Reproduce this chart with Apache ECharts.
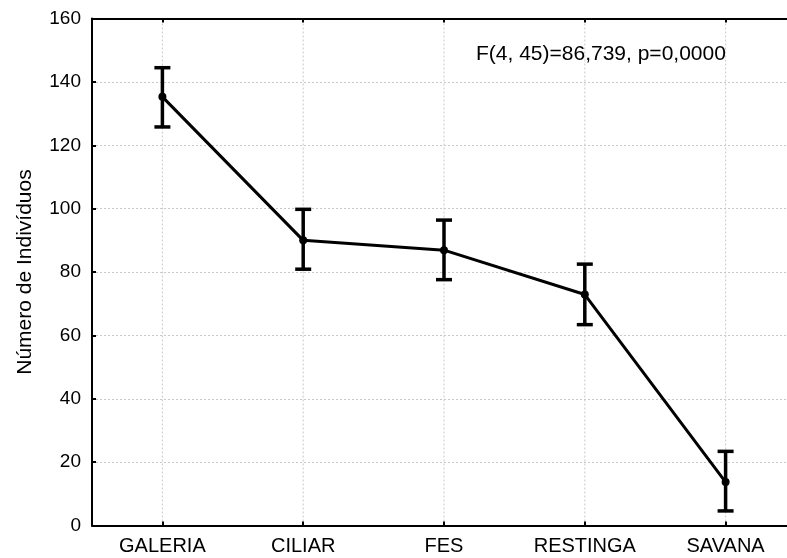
<!DOCTYPE html>
<html>
<head>
<meta charset="utf-8">
<script src="https://cdn.jsdelivr.net/npm/echarts@6/dist/echarts.min.js"></script>
<style>html,body{margin:0;padding:0;background:#fff}#c{width:787px;height:558px}</style>
</head>
<body>
<div id="c"></div>
<script>
var categories = ['GALERIA', 'CILIAR', 'FES', 'RESTINGA', 'SAVANA'];
var means = [135.3, 90.0, 86.9, 72.9, 13.7];
var upper = [144.5, 99.8, 96.4, 82.5, 23.4];
var lower = [125.8, 80.9, 77.6, 63.4, 4.6];
var yTicks = [0, 20, 40, 60, 80, 100, 120, 140, 160];
var yName = 'Número de Indivíduos';
var annotation = 'F(4, 45)=86,739, p=0,0000';

var FONT = "'Liberation Sans', Arial, sans-serif";
var chart = echarts.init(document.getElementById('c'), null, {renderer: 'canvas'});

var errData = categories.map(function (c, i) { return [i, lower[i], upper[i]]; });
var gridData = categories.map(function (c, i) { return [i]; });
var yMin = yTicks[0], yMax = yTicks[yTicks.length - 1];

var option = {
  animation: false,
  backgroundColor: '#fff',
  grid: {left: 92, top: 18.6, width: 704, bottom: 32.5, containLabel: false, outerBoundsMode: 'none'},
  xAxis: [{
    type: 'category',
    data: categories,
    position: 'bottom',
    boundaryGap: true,
    axisLine: {show: true, lineStyle: {color: '#000', width: 2}},
    axisTick: {show: true, inside: true, alignWithLabel: true, length: 4, lineStyle: {color: '#000', width: 2}},
    axisLabel: {color: '#000', fontFamily: FONT, fontSize: 20, margin: 11},
    splitLine: {show: false}
  }, {
    type: 'category',
    data: categories,
    position: 'top',
    boundaryGap: true,
    axisLine: {show: true, lineStyle: {color: '#000', width: 2}},
    axisTick: {show: true, inside: true, alignWithLabel: true, length: 4, lineStyle: {color: '#000', width: 2}},
    axisLabel: {show: false},
    splitLine: {show: false}
  }],
  yAxis: {
    type: 'value',
    min: yMin,
    max: yMax,
    interval: yTicks[1] - yTicks[0],
    name: yName,
    nameLocation: 'middle',
    nameGap: 56,
    nameRotate: 90,
    nameTextStyle: {color: '#000', fontFamily: FONT, fontSize: 21},
    axisLine: {show: true, lineStyle: {color: '#000', width: 2}},
    axisTick: {show: true, inside: true, length: 4, lineStyle: {color: '#000', width: 2}},
    axisLabel: {color: '#000', fontFamily: FONT, fontSize: 19, margin: 11},
    splitLine: {show: true, lineStyle: {color: '#c8c8c8', width: 1, type: [2, 2]}}
  },
  graphic: [{
    type: 'text',
    left: 476,
    top: 44,
    style: {text: annotation, fill: '#000', font: '21px ' + FONT}
  }],
  series: [{
    type: 'custom',
    z: 0,
    silent: true,
    data: gridData,
    renderItem: function (params, api) {
      var i = api.value(0);
      var a = api.coord([i, yMin]);
      var b = api.coord([i, yMax]);
      return {type: 'line', shape: {x1: a[0], y1: a[1], x2: b[0], y2: b[1]},
        style: {stroke: '#c8c8c8', lineWidth: 1, lineDash: [2, 2], fill: null}};
    }
  }, {
    type: 'custom',
    z: 3,
    data: errData,
    renderItem: function (params, api) {
      var x = api.value(0);
      var lo = api.coord([x, api.value(1)]);
      var hi = api.coord([x, api.value(2)]);
      var hw = 8;
      function st() { return {stroke: '#000', lineWidth: 3.5, fill: null}; }
      return {
        type: 'group',
        children: [
          {type: 'line', shape: {x1: lo[0], y1: lo[1], x2: hi[0], y2: hi[1]}, style: st()},
          {type: 'line', shape: {x1: lo[0] - hw, y1: lo[1], x2: lo[0] + hw, y2: lo[1]}, style: st()},
          {type: 'line', shape: {x1: hi[0] - hw, y1: hi[1], x2: hi[0] + hw, y2: hi[1]}, style: st()}
        ]
      };
    }
  }, {
    type: 'line',
    data: means,
    z: 4,
    symbol: 'circle',
    symbolSize: 8,
    showSymbol: true,
    lineStyle: {color: '#000', width: 3},
    itemStyle: {color: '#000', borderColor: '#000', borderWidth: 0}
  }]
};
chart.setOption(option);
</script>
</body>
</html>
